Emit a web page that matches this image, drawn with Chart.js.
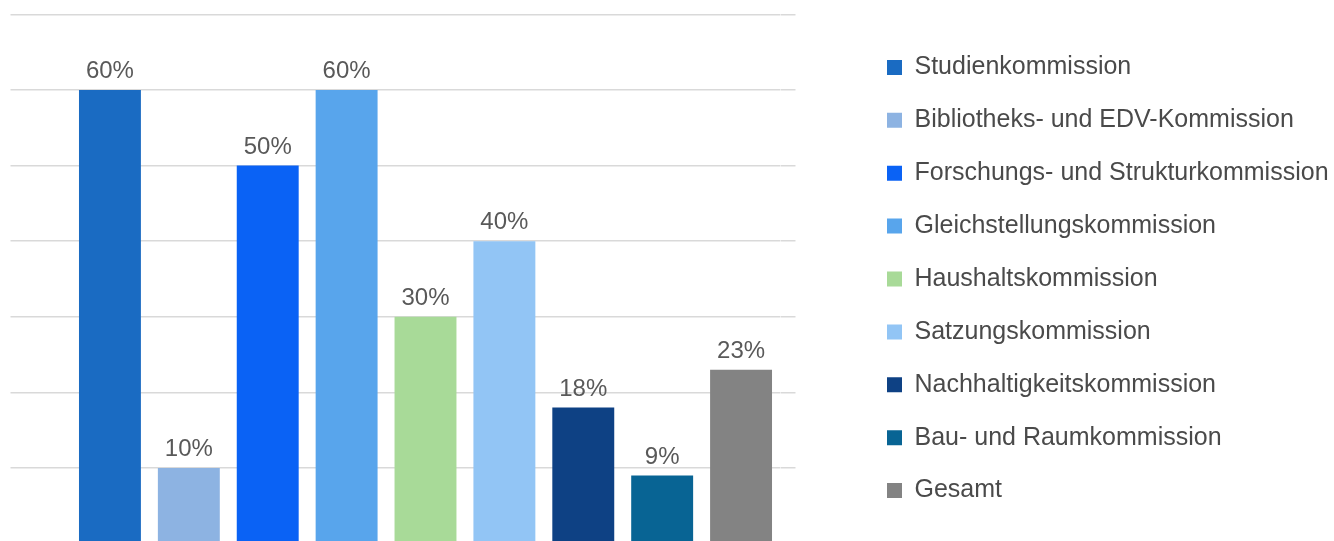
<!DOCTYPE html>
<html>
<head>
<meta charset="utf-8">
<script src="https://cdn.jsdelivr.net/npm/chart.js@4"></script>
<style>
  html, body { margin: 0; padding: 0; background: #fff; overflow: hidden; }
  #wrap { position: absolute; left: 0; top: 0; }
</style>
</head>
<body>
<div id="wrap"><canvas id="myChart" width="1400" height="560"></canvas></div>
<script>
'use strict'
// data
const commissions = [
    'Studienkommission',
    'Bibliotheks- und EDV-Kommission',
    'Forschungs- und Strukturkommission',
    'Gleichstellungskommission',
    'Haushaltskommission',
    'Satzungskommission',
    'Nachhaltigkeitskommission',
    'Bau- und Raumkommission',
    'Gesamt'
];
const shares = [60, 10, 50, 60, 30, 40, 18, 9, 23];
const barColors = ['#1a6bc2', '#8db3e2', '#0a62f5', '#58a5ec', '#a8da98', '#92c5f5', '#0e4184', '#086494', '#838383'];

const family = '"Liberation Sans", Arial, sans-serif';
const legendFont = 25;
const legendPad = 27.9;
const legendBox = 15;

// where the legend has to sit
let probe = document.createElement('canvas').getContext('2d');
probe.font = legendFont + 'px ' + family;
let widest = 0;
for (let name of commissions) {
    widest = Math.max(widest, probe.measureText(name).width);
}
const legendLeft = 887 - legendPad;
const legendWidth = legendPad + legendBox + legendFont / 2 + widest + 10;
const padRight = Math.max(0, 1400 - legendLeft - legendWidth);
// room between the plot's right edge (780.5) and the legend
const rightGap = legendLeft - 780.5;

const valueLabels = {
    id: 'valueLabels',
    afterDatasetsDraw(chart) {
        let ctx = chart.ctx;
        let meta = chart.getDatasetMeta(0);
        ctx.save();
        ctx.font = '24px ' + family;
        ctx.fillStyle = '#595959';
        ctx.textAlign = 'center';
        ctx.textBaseline = 'alphabetic';
        meta.data.forEach((bar, i) => {
            ctx.fillText(shares[i] + '%', bar.x, bar.y - 12);
        });
        ctx.restore();
    }
};

let ctx = document.getElementById('myChart');
let myChart = new Chart(ctx, {
    type: 'bar',
    data: {
        labels: commissions,
        datasets: [{
            label: 'Anteil',
            data: shares,
            backgroundColor: barColors,
            borderWidth: 0,
            categoryPercentage: 1,
            barPercentage: 0.785
        }]
    },
    options: {
        responsive: false,
        animation: false,
        layout: {
            autoPadding: false,
            padding: { left: 10.5, top: 14.4, bottom: 16.4, right: padRight }
        },
        scales: {
            x: { display: false },
            y: {
                min: 0,
                max: 70,
                ticks: { display: false, stepSize: 10 },
                border: { display: false },
                grid: { color: '#d9d9d9', lineWidth: 1.5, tickLength: 60 }
            },
            y2: {
                position: 'right',
                min: 0,
                max: 70,
                ticks: { display: false, stepSize: 10 },
                border: { display: false },
                grid: { drawOnChartArea: false, color: '#d9d9d9', lineWidth: 1.5, tickLength: 15 },
                title: {
                    display: true,
                    text: ' ',
                    font: { size: 1, lineHeight: 1 },
                    padding: { top: rightGap - 16, bottom: 0 }
                }
            }
        },
        plugins: {
            tooltip: { enabled: false },
            legend: {
                position: 'right',
                align: 'center',
                maxWidth: 800,
                labels: {
                    font: { family: family, size: legendFont },
                    color: '#4a4a4a',
                    boxWidth: legendBox,
                    boxHeight: legendBox,
                    padding: legendPad,
                    generateLabels: () => commissions.map((name, i) => ({
                        text: name,
                        fillStyle: barColors[i],
                        strokeStyle: barColors[i],
                        fontColor: '#4a4a4a',
                        lineWidth: 0,
                        hidden: false,
                        index: i
                    }))
                }
            }
        }
    },
    plugins: [valueLabels]
});
</script>
</body>
</html>
